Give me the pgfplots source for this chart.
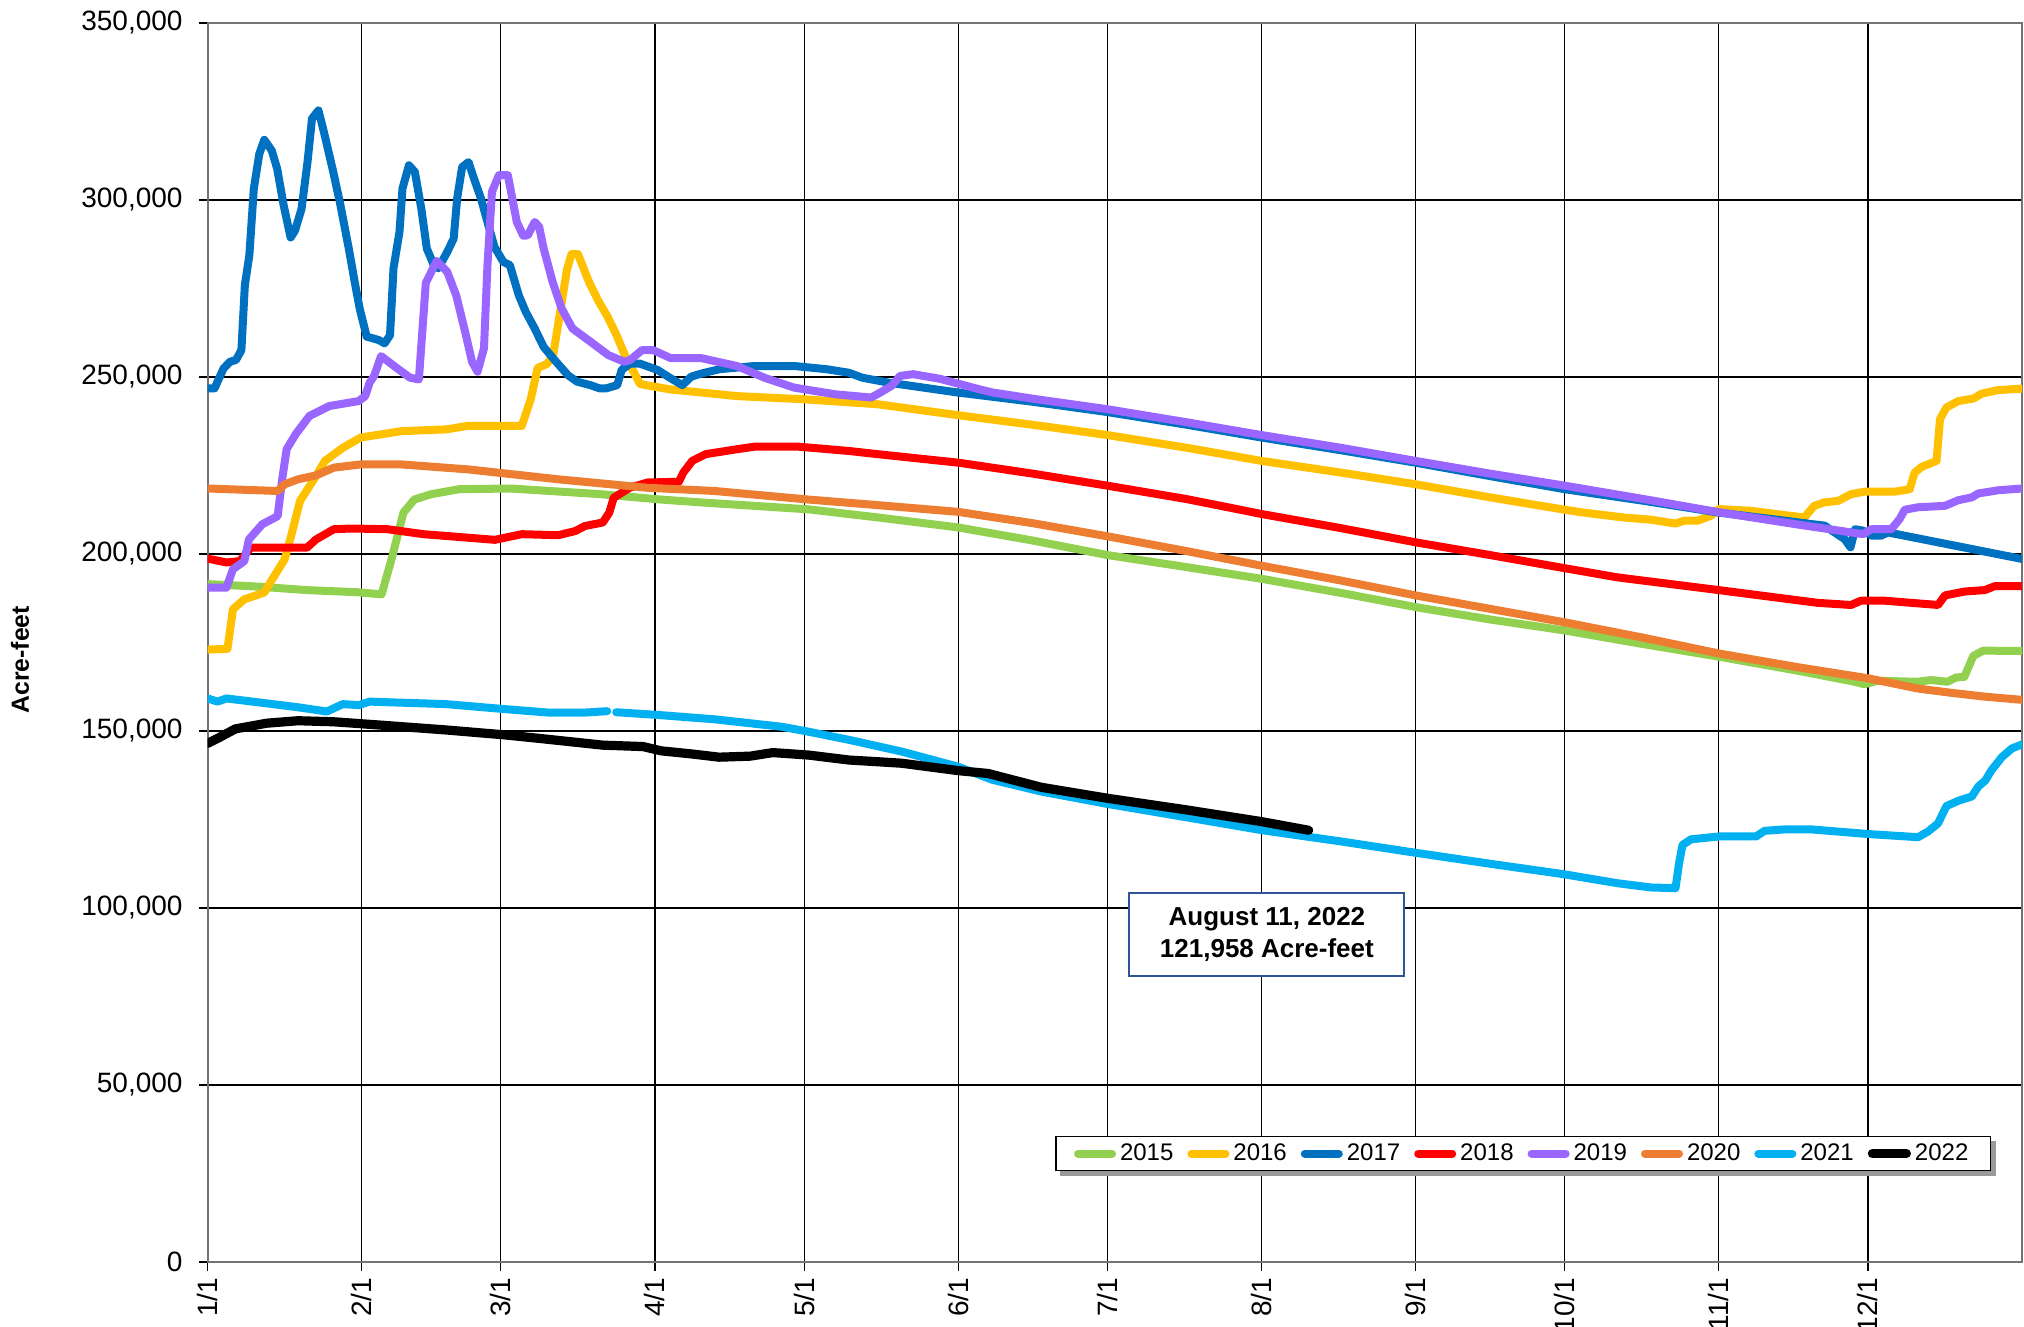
\documentclass[border=0pt]{standalone}
\usepackage{fontspec}
\setmainfont{Liberation Sans}
\usepackage{pgfplots}
\pgfplotsset{compat=1.18}
\definecolor{c15}{HTML}{92D050}
\definecolor{c16}{HTML}{FFC000}
\definecolor{c17}{HTML}{0070C0}
\definecolor{c18}{HTML}{FF0000}
\definecolor{c19}{HTML}{9966FF}
\definecolor{c20}{HTML}{ED7D31}
\definecolor{c21}{HTML}{00B0F0}
\definecolor{boxblue}{HTML}{2F5597}
\tikzset{ln/.style={line width=4pt, line cap=round, line join=round}}
\begin{document}
\begin{tikzpicture}
\begin{axis}[
  at={(0,0)}, anchor=south west,
  scale only axis, width=907.2pt, height=619.5pt,
  xmin=0, xmax=365, ymin=0, ymax=350000,
  xtick={0,31,59,90,120,151,181,212,243,273,304,334},
  xticklabels={1/1,2/1,3/1,4/1,5/1,6/1,7/1,8/1,9/1,10/1,11/1,12/1},
  ytick={0,50000,100000,150000,200000,250000,300000,350000},
  scaled y ticks=false,
  /pgf/number format/assume math mode=true,
  tick label style={font=\fontsize{14}{16}\selectfont},
  yticklabel style={xshift=-4.5pt, /pgf/number format/.cd, fixed, 1000 sep={,}},
  xticklabel style={rotate=90, anchor=east},
  grid=major, major grid style={black, line width=0.6pt},
  axis line style={black!55, line width=1pt},
  tick align=outside, tick pos=left, major tick length=4.5pt,
  tick style={black, line width=0.6pt},
  ylabel={Acre-feet},
  ylabel style={font=\bfseries\fontsize{12.4}{14}\selectfont, at={(axis description cs:-0.1034,0.486)}, anchor=center},
  legend columns=8,
  legend image code/.code={\draw[#1,line cap=round] (0pt,0pt) -- (17pt,0pt);},
  legend style={name=leg, at={(0.9829,0.0734)}, anchor=south east, draw=black, line width=0.6pt, fill=white,
    font=\fontsize{12}{14}\selectfont, inner xsep=9pt, inner ysep=2.5pt,
    nodes={inner xsep=2pt, inner ysep=1pt},
    /tikz/every even column/.append style={column sep=5pt}},
]
% 2015
\addplot[ln, color=c15] coordinates {(0,191500)(10,190800)(20,189800)(30,189200)(35,188600)(37,198500)(39.4,211700)(41.6,215400)(45,216900)(50.6,218300)(61,218500)(79,216900)(91,215400)(100,214500)(121,212600)(135,210300)(151,207500)(166,203800)(181,199700)(196,196500)(212,193000)(228,189000)(243,185000)(258,181500)(273,178400)(289,174500)(304,171000)(320,167000)(331,164000)(333.3,163200)(336,164200)(344,163900)(346.7,164400)(350,163900)(351.7,165100)(353.4,165300)(355.2,171200)(357.2,172700)(365,172600)};
\addlegendentry{2015}
% 2016
\addplot[ln, color=c16] coordinates {(0,173000)(4,173200)(5.1,184400)(7.4,187200)(11.4,189100)(12.8,192400)(15.5,198500)(16.8,205100)(18.6,215000)(21.8,222000)(23.6,226300)(27.2,230000)(30.8,232900)(39,234700)(48,235200)(52.4,236200)(63.2,236200)(65,243700)(66.4,252600)(68.2,253600)(69.5,256000)(72.3,280400)(73.2,284700)(74.5,284700)(76.8,276600)(78.6,271500)(80.4,267200)(82.2,262000)(84,256000)(87,248000)(93,246500)(106.5,244600)(120,243700)(134.8,242300)(151,239200)(166,236500)(181,233600)(197,230000)(212,226300)(228,223000)(243,219700)(258,216000)(273,212500)(276.8,211700)(284.9,210300)(290.3,209700)(295.3,208600)(297,209400)(299.7,209400)(302.4,210800)(304,212700)(310.5,212200)(317.2,211000)(321.2,210300)(323.2,213600)(325.3,214600)(328,215000)(330.6,216900)(333.3,217600)(339.4,217600)(342.4,218300)(343.4,223000)(344.8,224600)(347.8,226300)(348.5,238100)(349.8,241400)(352.2,243200)(355.2,243900)(356.9,245300)(360.2,246300)(365,246700)};
\addlegendentry{2016}
% 2017
\addplot[ln, color=c17] coordinates {(0,246800)(1.4,246800)(3.2,252400)(4.5,254300)(5.7,254800)(6.8,257600)(7.5,276000)(8.4,284400)(9.3,303200)(10.4,313000)(11.4,317000)(12.9,314000)(14,308800)(15.3,298500)(16.7,289400)(17.6,291400)(18.9,297500)(20.1,310700)(21,323000)(22.3,325300)(23.4,319200)(25.2,308400)(26.6,299400)(28.4,286300)(29.7,276000)(30.6,269300)(32,261400)(33.3,260900)(34.5,260400)(35.6,259500)(36.7,261800)(37.4,280700)(38.6,291000)(39.2,303200)(40.5,309800)(41.7,307900)(43,297500)(44.1,286300)(45.5,281600)(46.4,280700)(48.2,285300)(49.5,289100)(50.2,300400)(51.2,309300)(52.5,310700)(53.6,306000)(55,300400)(56.3,293800)(57.7,286800)(59.5,282500)(60.8,281600)(62.6,273100)(64,268400)(65.8,263700)(67.6,258500)(69.8,254800)(72.5,250500)(74.3,248700)(77,247700)(78.8,246800)(80.2,246800)(82.4,247700)(83.3,252000)(85,253800)(86.9,253800)(90.5,252000)(93.2,249600)(95.5,247700)(97.3,250100)(99.4,251000)(103,252200)(110,253100)(118,253100)(124.5,252200)(129,251200)(131.7,249800)(137,248400)(151,245600)(166,243000)(181,240100)(197,236500)(212,232900)(228,229300)(243,225800)(258,222000)(273,218300)(289,215000)(304,211700)(315,209800)(325.3,208000)(327.3,206100)(329.3,204200)(330.5,201900)(331.4,207000)(333,206600)(334.7,205200)(336.7,205200)(338,206100)(365,198600)};
\addlegendentry{2017}
% 2018
\addplot[ln, color=c18] coordinates {(0,198700)(3.8,197600)(6.5,198000)(8.7,201800)(20,201800)(21.8,204100)(25.4,207000)(29,207200)(36.2,207000)(43.4,205600)(52.4,204600)(57.8,204000)(63.2,205600)(70.5,205300)(74,206500)(75.9,207900)(79.5,208900)(80.8,211700)(81.7,215900)(84.9,218700)(88.5,220200)(94.8,220400)(95.7,223000)(97.5,226300)(100.2,228200)(106.5,229600)(110,230300)(119,230300)(129,229100)(134.8,228200)(151,225800)(166,222700)(181,219300)(197,215500)(212,211300)(228,207300)(243,203300)(258,199700)(270.1,196700)(283.6,193400)(304,189800)(323.9,186200)(330.6,185600)(332.6,186800)(337.4,186800)(348.1,185600)(349.5,188300)(353.5,189400)(357.5,189800)(359.5,190900)(365,190900)};
\addlegendentry{2018}
% 2019
\addplot[ln, color=c19] coordinates {(0,190500)(3.8,190500)(5.1,195700)(7.4,198000)(8.3,204100)(11,208400)(14.1,210700)(15,221100)(15.9,229600)(17.7,233800)(20.5,239000)(24.5,241800)(30.4,243200)(31.7,244600)(32.6,248400)(33.5,250300)(34.9,255900)(38,252600)(40.7,249800)(42.5,249300)(43.9,276600)(46.1,282800)(48.2,279700)(50,273100)(51.8,262800)(53.2,254300)(54.3,251500)(55.6,258100)(56.3,281600)(57.2,302300)(58.6,307000)(60.4,307000)(62.2,293800)(63.5,289900)(64.4,290000)(65.8,293800)(66.7,292400)(67.6,286300)(69.4,276900)(71.2,269400)(73.4,263700)(77,260000)(80.6,256200)(83.8,254300)(85,254800)(87.4,257600)(89.6,257600)(93.2,255300)(99.4,255300)(106.5,253100)(112,249800)(118,247000)(126.3,245100)(133.5,244200)(135.3,245600)(137.6,247500)(139.3,250300)(141.9,250800)(147.3,249500)(155.3,246500)(158,245600)(166.8,243700)(181,240900)(197,237200)(212,233600)(228,230000)(243,226300)(258,222700)(273,219300)(289,215500)(304,211800)(320,208300)(333,205600)(334.7,207000)(338.7,207000)(340.4,209900)(341.4,212500)(344.1,213200)(349.5,213600)(352.2,215200)(354.9,216000)(356.2,217100)(360.2,218000)(365,218500)};
\addlegendentry{2019}
% 2020
\addplot[ln, color=c20] coordinates {(0,218500)(14.1,217800)(15.5,219700)(18.2,221100)(21.8,222200)(25.4,224400)(30.8,225300)(39,225300)(52.4,223900)(70.5,221100)(88.5,218700)(102,217800)(120.7,215400)(134.8,213800)(151,211900)(166,208700)(181,205000)(197,200800)(212,196700)(228,192500)(243,188300)(258,184500)(273,180700)(289,176300)(304,171900)(320,168000)(334,164900)(344,162000)(350.7,160800)(357.5,159700)(365,158800)};
\addlegendentry{2020}
% 2021
\addplot[ln, color=c21, unbounded coords=jump] coordinates {(0,159200)(2,158300)(3.8,159200)(11.9,157800)(18.2,156700)(24,155500)(27.2,157600)(30.4,157300)(32.6,158300)(38.9,158000)(47.9,157600)(59.6,156200)(68.6,155200)(75.9,155200)(80.4,155600)(81.3,nan)(82.2,155300)(90.9,154500)(102,153300)(115.5,151200)(120.9,149800)(129,147500)(139.6,144200)(151,139900)(157.9,136200)(167.7,132900)(181,129400)(197,125600)(212,122000)(228,118800)(243,115600)(258,112500)(273,109500)(283.6,107000)(290.3,105800)(295.3,105600)(296,112600)(296.7,117800)(298.4,119400)(304,120200)(311.5,120200)(313.2,121800)(317.2,122200)(322.6,122200)(334,120900)(344.1,120000)(346.1,121600)(348.1,123900)(349.8,128800)(352.2,130300)(354.9,131500)(356.2,134300)(357.6,136000)(358.9,139000)(361,142700)(363,145100)(365,146200)};
\addlegendentry{2021}
% 2022
\addplot[ln, color=black, line width=4.6pt] coordinates {(0,146500)(2,147900)(5.6,150600)(11.9,152200)(18.2,152900)(25.4,152600)(34.4,151700)(47.9,150300)(59.8,148900)(66.8,147900)(79.5,146000)(87.6,145600)(91.2,144400)(97.5,143500)(102.9,142600)(109.2,142900)(113.7,143900)(120.9,143200)(129,141800)(135,141300)(139.6,140900)(151,138800)(157,138000)(167.7,134100)(181,131000)(197,127700)(212,124400)(221.5,121958)};
\addlegendentry{2022}
\node[draw=boxblue, line width=1pt, fill=white, minimum width=137.5pt, minimum height=41.5pt, align=center, inner sep=0pt, font=\bfseries\fontsize{13}{16}\selectfont] at (axis cs:213.1,92600) {August 11, 2022\\121,958 Acre-feet};
\end{axis}
\fill[black!40] ([yshift=-2.5pt]leg.south east) rectangle ([xshift=2.5pt,yshift=-2.5pt]leg.north east);
\fill[black!40] ([xshift=2.5pt,yshift=-2.5pt]leg.south west) rectangle (leg.south east);
\pgfresetboundingbox
\path[use as bounding box] (-103.8pt,-32.5pt) rectangle (908.2pt,631pt);
\end{tikzpicture}
\end{document}
